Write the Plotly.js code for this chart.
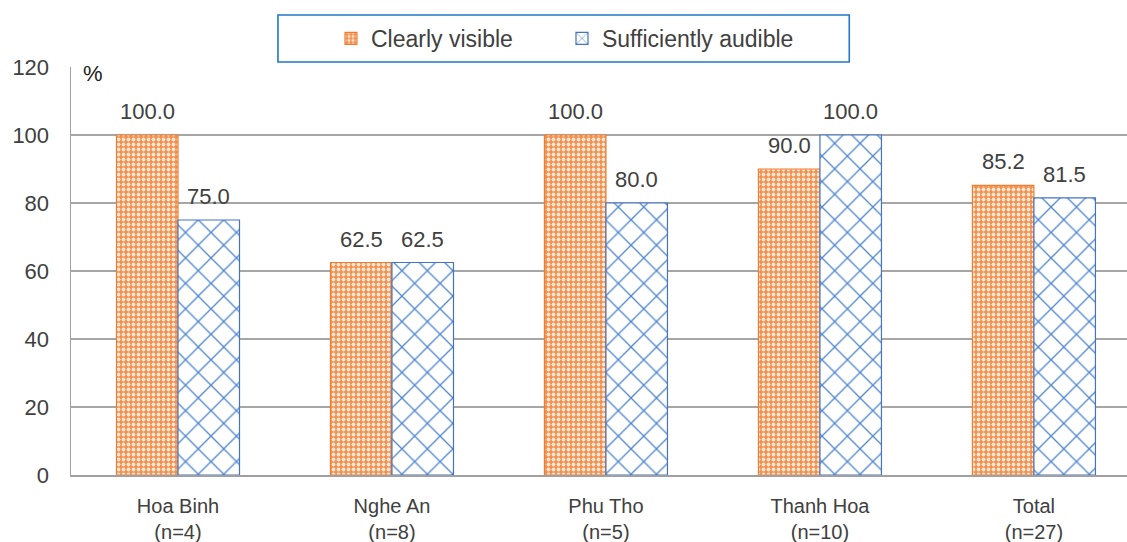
<!DOCTYPE html>
<html>
<head>
<meta charset="utf-8">
<script src="https://cdn.plot.ly/plotly-3.0.1.min.js"></script>
<style>html,body{margin:0;padding:0;background:#fff;overflow:hidden}#chart{width:1127px;height:542px}</style>
</head>
<body>
<div id="chart"></div>
<script>
const categories = ["Hoa Binh<br>(n=4)", "Nghe An<br>(n=8)", "Phu Tho<br>(n=5)", "Thanh Hoa<br>(n=10)", "Total<br>(n=27)"];
const seriesNames = ["Clearly visible", "Sufficiently audible"];
const clearlyVisible = [100.0, 62.5, 100.0, 90.0, 85.2];
const sufficientlyAudible = [75.0, 62.5, 80.0, 100.0, 81.5];
const yTicks = [0, 20, 40, 60, 80, 100, 120];

const pos = categories.map((_, i) => i);
const FONT = "Liberation Sans, Arial, sans-serif";
const TXT = "#404040";
const bargap = 0.425;
const half = (1 - bargap) / 4;

const traces = [
  {
    type: "bar", name: seriesNames[0], x: pos, y: clearlyVisible,
    marker: {
      color: "#F49A5C",
      line: {color: "#ED7D31", width: 1.2},
      pattern: {shape: ".", bgcolor: "#F2904C", fgcolor: "#FDE6D6", size: 5, solidity: 0.45, fillmode: "replace"}
    },
    hoverinfo: "skip"
  },
  {
    type: "bar", name: seriesNames[1], x: pos, y: sufficientlyAudible,
    marker: {
      color: "#FFFFFF",
      line: {color: "#4472C4", width: 1.2},
      pattern: {shape: "x", bgcolor: "#FFFFFF", fgcolor: "#4F86CF", size: 18, solidity: 0.14, fillmode: "replace"}
    },
    hoverinfo: "skip"
  }
];

const annotations = [];
clearlyVisible.forEach((v, i) => annotations.push({
  x: i - half, y: v, xref: "x", yref: "y", text: v.toFixed(1), showarrow: false,
  yanchor: "bottom", yshift: 9, font: {family: FONT, size: 22, color: TXT}
}));
sufficientlyAudible.forEach((v, i) => annotations.push({
  x: i + half, y: v, xref: "x", yref: "y", text: v.toFixed(1), showarrow: false,
  yanchor: "bottom", yshift: 9, font: {family: FONT, size: 22, color: TXT}
}));
annotations.push({
  x: 0.0204, y: 0.984, xref: "paper", yref: "paper", text: "%", showarrow: false,
  xanchor: "center", yanchor: "middle",
  font: {family: FONT, size: 22, color: "#1A1A1A"}
});

const layout = {
  width: 1127, height: 542,
  margin: {l: 71, r: 0, t: 67, b: 67, pad: 0},
  paper_bgcolor: "#FFFFFF", plot_bgcolor: "#FFFFFF",
  font: {family: FONT, size: 22, color: TXT},
  barmode: "group", bargap: bargap, bargroupgap: 0,
  showlegend: true,
  legend: {
    orientation: "h", x: 0.2462, xanchor: "left", y: 1.07, yanchor: "middle",
    font: {family: FONT, size: 23, color: TXT}, bgcolor: "rgba(0,0,0,0)",
    itemwidth: 30, entrywidth: 186, entrywidthmode: "pixels", traceorder: "normal"
  },
  shapes: [{
    type: "rect", xref: "paper", yref: "paper", x0: 0.196, x1: 0.737, y0: 1.0123, y1: 1.1275,
    line: {color: "#1F78C8", width: 1.6}, fillcolor: "rgba(0,0,0,0)", layer: "above"
  }],
  xaxis: {
    range: [-0.5, 4.435], tickvals: pos, ticktext: categories, showgrid: false,
    showline: true, linecolor: "#A0A0A0", linewidth: 2, ticks: "", zeroline: false,
    ticklabelstandoff: 12, tickfont: {family: FONT, size: 20, color: TXT}, fixedrange: true
  },
  yaxis: {
    range: [0, 120], tickvals: yTicks, showgrid: true, gridcolor: "#A6A6A6", gridwidth: 1.5,
    showline: true, linecolor: "#A0A0A0", linewidth: 1.5, ticks: "", zeroline: false,
    ticklabelstandoff: 16, tickfont: {family: FONT, size: 22, color: TXT}, fixedrange: true
  },
  annotations: annotations
};

Plotly.newPlot("chart", traces, layout, {displayModeBar: false, staticPlot: true});
</script>
</body>
</html>
